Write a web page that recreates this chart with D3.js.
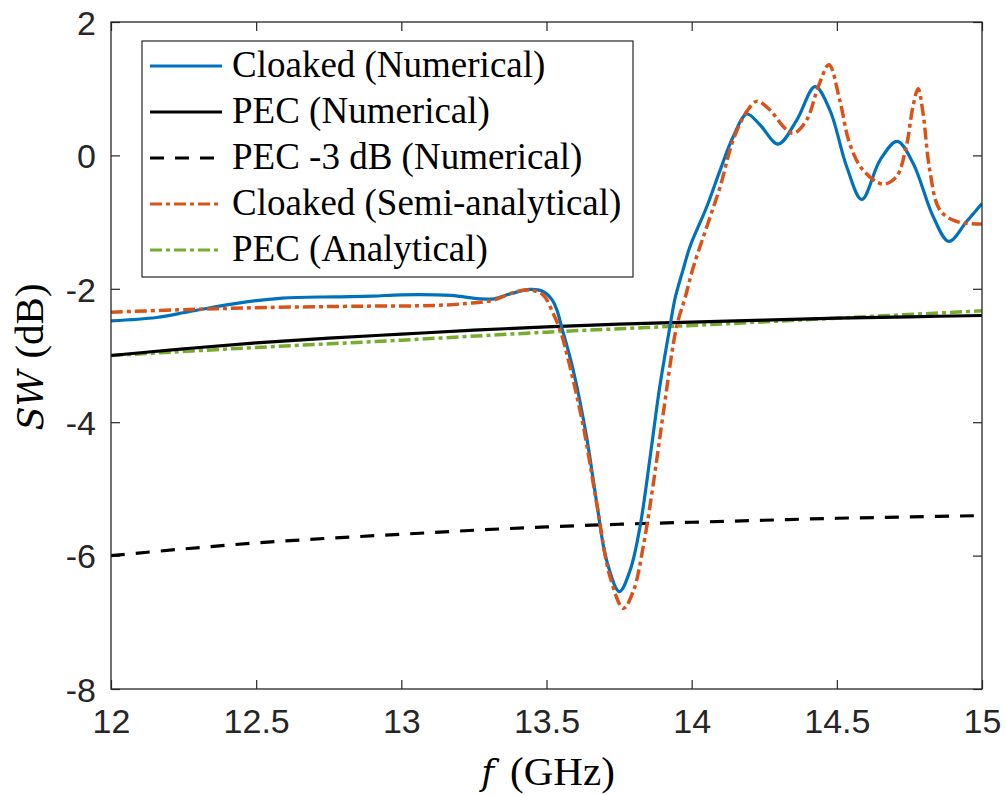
<!DOCTYPE html>
<html>
<head>
<meta charset="utf-8">
<script src="https://cdn.jsdelivr.net/npm/d3@7"></script>
<style>
  body { margin: 0; background: #fff; }
  #graf { width: 1005px; height: 795px; }
  .tick text { font-family: "Liberation Sans", Arial, sans-serif; font-size: 34px; fill: #262626; }
  .tick line { stroke: #262626; stroke-width: 1.2; }
  .lbl { font-family: "Liberation Serif", "Times New Roman", serif; font-size: 37px; fill: #000; }
  .ax { font-family: "Liberation Serif", "Times New Roman", serif; font-size: 41px; fill: #000; }
  .it { font-family: "DejaVu Serif", "Liberation Serif", serif; font-style: italic; font-size: 35px; }
</style>
</head>
<body>
<div id="graf"></div>
<script>
// data
const pecFreq = [12, 12.25, 12.5, 12.75, 13, 13.25, 13.5, 13.75, 14, 14.25, 14.5, 14.75, 15];
const pecNum = [-3.0, -2.9, -2.81, -2.74, -2.68, -2.62, -2.57, -2.53, -2.5, -2.47, -2.44, -2.42, -2.4];
const pecNum3dB = [-6.0, -5.9, -5.81, -5.74, -5.68, -5.62, -5.57, -5.53, -5.5, -5.47, -5.44, -5.42, -5.4];
const pecAnaFreq = [12, 12.5, 13, 13.5, 14, 14.5, 15];
const pecAna = [-3.0, -2.88, -2.77, -2.65, -2.55, -2.44, -2.33];

const cloakNumFreq = [12, 12.157, 12.272, 12.444, 12.59, 12.765, 12.9, 13.0, 13.17, 13.27, 13.32, 13.38,
  13.443, 13.488, 13.52, 13.536, 13.552, 13.592, 13.638, 13.673, 13.707, 13.751, 13.788, 13.822, 13.857,
  13.89, 13.925, 13.943, 13.97, 13.994, 14.052, 14.098, 14.143, 14.19, 14.235, 14.298, 14.362, 14.425,
  14.476, 14.534, 14.586, 14.649, 14.708, 14.763, 14.832, 14.886, 14.947, 15];
const cloakNum = [-2.48, -2.43, -2.34, -2.21, -2.14, -2.12, -2.11, -2.09, -2.1, -2.15, -2.15, -2.07,
  -2.01, -2.04, -2.17, -2.32, -2.57, -3.22, -4.22, -5.21, -6.07, -6.54, -6.22, -5.57, -4.52,
  -3.47, -2.57, -2.14, -1.72, -1.37, -0.77, -0.22, 0.28, 0.62, 0.46, 0.17, 0.53, 1.03,
  0.68, -0.17, -0.66, -0.07, 0.21, -0.12, -0.92, -1.29, -0.99, -0.72];

const cloakSemiFreq = [12, 12.27, 12.536, 12.88, 13.11, 13.225, 13.316, 13.397, 13.443, 13.488, 13.523,
  13.547, 13.581, 13.627, 13.673, 13.719, 13.765, 13.8, 13.833, 13.868, 13.902, 13.948, 13.977, 14.006,
  14.052, 14.098, 14.143, 14.19, 14.224, 14.27, 14.316, 14.35, 14.396, 14.436, 14.473, 14.51, 14.544,
  14.59, 14.659, 14.705, 14.739, 14.762, 14.78, 14.797, 14.82, 14.855, 14.912, 15];
const cloakSemi = [-2.35, -2.31, -2.28, -2.26, -2.25, -2.22, -2.17, -2.04, -2.02, -2.09, -2.37,
  -2.62, -3.17, -4.07, -5.22, -6.32, -6.79, -6.52, -5.87, -4.92, -3.87, -2.57, -2.14, -1.67,
  -1.07, -0.47, 0.23, 0.66, 0.81, 0.68, 0.43, 0.33, 0.53, 1.03, 1.36, 0.83, 0.18,
  -0.22, -0.43, -0.32, 0.13, 0.73, 1.0, 0.63, -0.22, -0.82, -0.99, -1.03];

const xTicks = [12, 12.5, 13, 13.5, 14, 14.5, 15];
const yTicks = [-8, -6, -4, -2, 0, 2];

const series = [
  { name: "Cloaked (Numerical)", f: cloakNumFreq, v: cloakNum, color: "#0072BD", dash: null },
  { name: "PEC (Numerical)", f: pecFreq, v: pecNum, color: "#000000", dash: null },
  { name: "PEC -3 dB (Numerical)", f: pecFreq, v: pecNum3dB, color: "#000000", dash: "14,11" },
  { name: "Cloaked (Semi-analytical)", f: cloakSemiFreq, v: cloakSemi, color: "#D95319", dash: "12,4,4,4" },
  { name: "PEC (Analytical)", f: pecAnaFreq, v: pecAna, color: "#77AC30", dash: "12,4,4,4" },
];
// draw order in the plot (green under orange / black)
const drawOrder = [4, 1, 2, 0, 3];

const margins = { top: 22, left: 111, right: 23, bottom: 106 };
const ancho = 1005 - margins.left - margins.right;
const alto = 795 - margins.top - margins.bottom;

const svg = d3.select("#graf").append("svg")
  .attr("width", 1005).attr("height", 795)
  .append("g")
  .attr("transform", `translate(${margins.left},${margins.top})`);

const x = d3.scaleLinear().domain([12, 15]).range([0, ancho]);
const y = d3.scaleLinear().domain([-8, 2]).range([alto, 0]);

svg.append("clipPath").attr("id", "clip")
  .append("rect").attr("width", ancho).attr("height", alto);

// axes (MATLAB style, ticks inward, box on)
const fmt = (d) => String(d);
const axB = svg.append("g").attr("transform", `translate(0,${alto})`)
  .call(d3.axisBottom(x).tickValues(xTicks).tickSizeInner(-9).tickSizeOuter(0).tickPadding(20)
    .tickFormat(fmt));
const axL = svg.append("g")
  .call(d3.axisLeft(y).tickValues(yTicks).tickSizeInner(-9).tickSizeOuter(0).tickPadding(15)
    .tickFormat(fmt));
svg.append("g").call(d3.axisTop(x).tickValues(xTicks).tickSizeInner(-9).tickSizeOuter(0).tickFormat(""));
svg.append("g").attr("transform", `translate(${ancho},0)`)
  .call(d3.axisRight(y).tickValues(yTicks).tickSizeInner(-9).tickSizeOuter(0).tickFormat(""));
svg.selectAll(".domain").remove();
axB.selectAll(".tick text").attr("dy", "0.71em");
axL.selectAll(".tick text").attr("dy", "0.36em");

const line = d3.line()
  .x((d) => x(d[0]))
  .y((d) => y(d[1]))
  .curve(d3.curveCatmullRom.alpha(0.5));

const plot = svg.append("g").attr("clip-path", "url(#clip)");
drawOrder.forEach((i) => {
  const s = series[i];
  plot.append("path")
    .datum(s.f.map((f, k) => [f, s.v[k]]))
    .attr("d", line)
    .attr("fill", "none")
    .attr("stroke", s.color)
    .attr("stroke-width", s.dash && s.dash.split(",").length > 2 ? 3.5 : 3.2)
    .attr("stroke-dasharray", s.dash);
});

svg.append("rect")
  .attr("width", ancho).attr("height", alto)
  .attr("fill", "none").attr("stroke", "#262626").attr("stroke-width", 1.3);

// legend
const leg = svg.append("g").attr("transform", `translate(${142 - margins.left},${41 - margins.top})`);
leg.append("rect").attr("width", 491).attr("height", 236)
  .attr("fill", "#fff").attr("stroke", "#262626").attr("stroke-width", 1.2);
series.forEach((s, i) => {
  const yy = 25 + i * 46;
  leg.append("line")
    .attr("x1", 8).attr("x2", 80).attr("y1", yy).attr("y2", yy)
    .attr("stroke", s.color).attr("stroke-width", 3.2)
    .attr("stroke-dasharray", s.dash);
  leg.append("text").attr("class", "lbl")
    .attr("x", 90).attr("y", yy + 11)
    .text(s.name);
});

// axis titles
const yl = svg.append("text").attr("class", "ax")
  .attr("transform", `translate(${43 - margins.left},${357 - margins.top}) rotate(-90)`)
  .attr("text-anchor", "middle");
yl.append("tspan").attr("class", "it").text("SW");
yl.append("tspan").attr("dx", 12).text("(dB)");

const xl = svg.append("text").attr("class", "ax")
  .attr("x", 548 - margins.left).attr("y", 785 - margins.top)
  .attr("text-anchor", "middle");
xl.append("tspan").attr("class", "it").text("f");
xl.append("tspan").attr("dx", 16).text("(GHz)");
</script>
</body>
</html>
